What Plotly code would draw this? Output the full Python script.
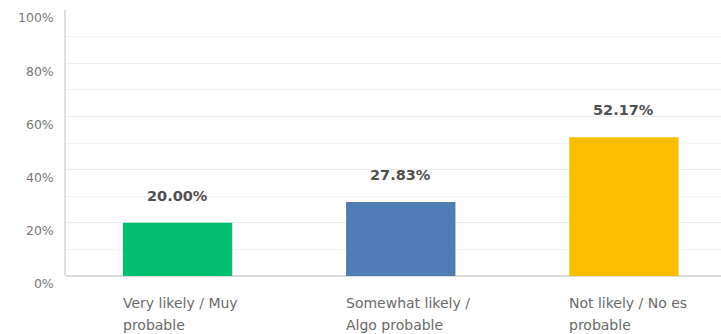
import plotly.graph_objects as go

# Survey response shares
categories = [["Very likely / Muy", "probable"],
              ["Somewhat likely /", "Algo probable"],
              ["Not likely / No es", "probable"]]
values = [20.00, 27.83, 52.17]
colors = ["#00BF6F", "#507CB6", "#F9BE00"]
tick_vals = [0, 20, 40, 60, 80, 100]
tick_text = ["0%", "20%", "40%", "60%", "80%", "100%"]

xs = list(range(len(categories)))
half_bar = 0.245

fig = go.Figure(
    go.Bar(
        x=xs,
        y=values,
        marker=dict(color=colors, line=dict(width=0)),
        width=2 * half_bar,
        hoverinfo="skip",
    )
)

# Value labels above each bar
for x, v in zip(xs, values):
    fig.add_annotation(
        x=x, y=v, text=f"<b>{v:.2f}%</b>", showarrow=False,
        xanchor="center", yanchor="middle", yshift=27,
        font=dict(family="DejaVu Sans", size=14.5, color="#505050"),
    )

# Category labels, left aligned under each bar, one annotation per line
for x, lines in zip(xs, categories):
    for i, line in enumerate(lines):
        fig.add_annotation(
            x=x - half_bar, y=0, text=line, showarrow=False,
            xanchor="left", yanchor="middle", align="left",
            xshift=-2, yshift=-27 - 22 * i,
            font=dict(family="DejaVu Sans", size=14, color="#6a6a6a"),
        )

fig.update_layout(
    width=721, height=334,
    margin=dict(l=66, r=0, t=10, b=58),
    paper_bgcolor="white", plot_bgcolor="white",
    showlegend=False,
    xaxis=dict(
        range=[-0.5, 2.435], showticklabels=False, showgrid=False,
        zeroline=False, showline=False, fixedrange=True,
    ),
    yaxis=dict(
        range=[0, 100], tickvals=tick_vals, ticktext=tick_text,
        showgrid=True, gridcolor="#eeeeee", gridwidth=1,
        minor=dict(dtick=10, showgrid=True, gridcolor="#f2f2f2", gridwidth=1),
        zeroline=True, zerolinecolor="#dcdcdc", zerolinewidth=1.5,
        showline=True, linecolor="#e0e0e0", linewidth=1.5,
        ticks="", ticklabelshift=8, ticklabelstandoff=8,
        tickfont=dict(family="DejaVu Sans", size=12.5, color="#777777"),
        fixedrange=True,
    ),
)

fig.write_html("out.html")
